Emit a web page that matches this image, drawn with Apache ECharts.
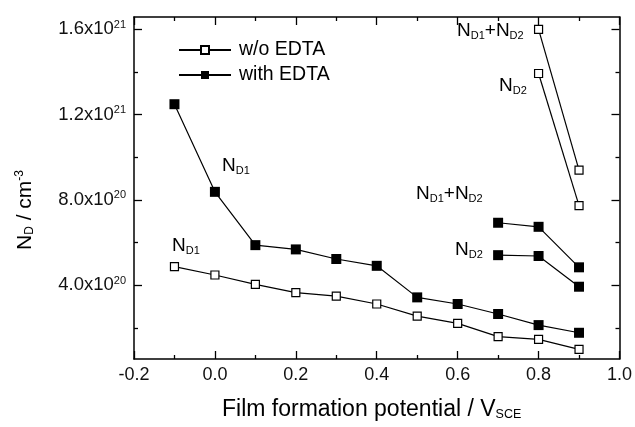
<!DOCTYPE html>
<html>
<head>
<meta charset="utf-8">
<script src="https://cdn.jsdelivr.net/npm/echarts@6/dist/echarts.min.js"></script>
<style>html,body{margin:0;padding:0;background:#fff;}#c{width:635px;height:427px;}</style>
</head>
<body>
<div id="c"></div>
<script>
// ---- data ----
const potentialsAll = [-0.1, 0.0, 0.1, 0.2, 0.3, 0.4, 0.5, 0.6, 0.7, 0.8, 0.9];
const woEdtaND1 = [4.87e20, 4.48e20, 4.04e20, 3.65e20, 3.49e20, 3.12e20, 2.55e20, 2.21e20, 1.59e20, 1.46e20, 0.99e20];
const withEdtaND1 = [12.49e20, 8.38e20, 5.88e20, 5.68e20, 5.23e20, 4.91e20, 3.43e20, 3.12e20, 2.65e20, 2.13e20, 1.77e20];
const potentialsWo = [0.8, 0.9];
const woEdtaND2 = [13.93e20, 7.73e20];
const woEdtaSum = [16.0e20, 9.40e20];
const potentialsWith = [0.7, 0.8, 0.9];
const withEdtaND2 = [5.41e20, 5.37e20, 3.93e20];
const withEdtaSum = [6.93e20, 6.74e20, 4.84e20];
const yMajorTicks = [4e20, 8e20, 1.2e21, 1.6e21];
const yMinorTicks = [2e20, 6e20, 1.0e21, 1.4e21];
const legendNames = ['w/o EDTA', 'with EDTA'];

const FONT = '"Liberation Sans", Arial, Helvetica, sans-serif';
const Y_MIN = 0.54e20, Y_MAX = 1.658e21;

function pairs(xs, ys) { return xs.map((x, i) => [x, ys[i]]); }

function openSeries(data) {
  return {
    type: 'line', name: legendNames[0], xAxisIndex: 0, yAxisIndex: 0,
    data: data, symbol: 'rect', symbolSize: 8, showAllSymbol: true,
    lineStyle: { color: '#000', width: 1.2 },
    itemStyle: { color: '#fff', borderColor: '#000', borderWidth: 1.2 },
    emphasis: { disabled: true }, animation: false, z: 3
  };
}
function filledSeries(data) {
  return {
    type: 'line', name: legendNames[1], xAxisIndex: 0, yAxisIndex: 0,
    data: data, symbol: 'rect', symbolSize: 10, showAllSymbol: true,
    lineStyle: { color: '#000', width: 1.2 },
    itemStyle: { color: '#000', borderColor: '#000', borderWidth: 0 },
    emphasis: { disabled: true }, animation: false, z: 3
  };
}

function sciLabel(v) {
  const e = Math.floor(Math.log10(v) + 1e-9);
  const m = (v / Math.pow(10, e)).toFixed(1);
  return '{a|' + m + 'x10}{s|' + e + '}';
}

const hiddenY = (pos, ticks, len, showLine) => ({
  type: 'value', position: pos, min: Y_MIN, max: Y_MAX, gridIndex: 0,
  axisLine: { show: !!showLine, onZero: false, lineStyle: { color: '#000', width: 1.5 } },
  axisTick: { show: true, inside: true, length: len, customValues: ticks, lineStyle: { color: '#000', width: 1.3 } },
  axisLabel: { show: false }, splitLine: { show: false }
});

const chart = echarts.init(document.getElementById('c'), null, { renderer: 'canvas' });
const annoRich = {
  n: { fontFamily: FONT, fontSize: 19, lineHeight: 20, verticalAlign: 'top', color: '#000' },
  s: { fontFamily: FONT, fontSize: 11, lineHeight: 12, verticalAlign: 'bottom', color: '#000' }
};
function anno(left, top, text) {
  return { type: 'text', left: left, top: top, z: 10, style: { text: text, rich: annoRich, lineHeight: 26 } };
}

chart.setOption({
  animation: false,
  backgroundColor: '#fff',
  grid: { left: 134, right: 15, top: 17, bottom: 68, containLabel: false },
  legend: {
    data: legendNames, orient: 'vertical', left: 173, top: 35,
    itemWidth: 52, itemHeight: 10, itemGap: 5,
    textStyle: { fontFamily: FONT, fontSize: 19.5, color: '#000', padding: [0, 0, 0, 3] },
    selectedMode: false
  },
  xAxis: [
    {
      type: 'value', position: 'bottom', min: -0.2, max: 1.0, interval: 0.2,
      axisLine: { show: true, onZero: false, lineStyle: { color: '#000', width: 1.5 } },
      axisTick: { show: true, inside: true, length: 8, lineStyle: { color: '#000', width: 1.3 } },
      minorTick: { show: true, splitNumber: 2, length: 4, lineStyle: { color: '#000', width: 1.3 } },
      axisLabel: { fontFamily: FONT, fontSize: 18, color: '#111', margin: 7,
        formatter: v => v.toFixed(1) },
      splitLine: { show: false }
    },
    {
      type: 'value', position: 'top', min: -0.2, max: 1.0, interval: 0.2,
      axisLine: { show: true, onZero: false, lineStyle: { color: '#000', width: 1.5 } },
      axisTick: { show: true, inside: true, length: 8, lineStyle: { color: '#000', width: 1.3 } },
      minorTick: { show: true, splitNumber: 2, length: 4, lineStyle: { color: '#000', width: 1.3 } },
      axisLabel: { show: false }, splitLine: { show: false }
    }
  ],
  yAxis: [
    {
      type: 'value', position: 'left', min: Y_MIN, max: Y_MAX,
      axisLine: { show: true, onZero: false, lineStyle: { color: '#000', width: 1.5 } },
      axisTick: { show: true, inside: true, length: 8, customValues: yMajorTicks, lineStyle: { color: '#000', width: 1.3 } },
      axisLabel: {
        customValues: yMajorTicks, margin: 8, formatter: sciLabel,
        rich: {
          a: { fontFamily: FONT, fontSize: 18.5, lineHeight: 20, color: '#111' },
          s: { fontFamily: FONT, fontSize: 11, lineHeight: 8, verticalAlign: 'top', color: '#111' }
        }
      },
      splitLine: { show: false }
    },
    hiddenY('left', yMinorTicks, 4, false),
    hiddenY('right', yMajorTicks, 8, true),
    hiddenY('right', yMinorTicks, 4, false)
  ],
  series: [
    openSeries(pairs(potentialsAll, woEdtaND1)),
    filledSeries(pairs(potentialsAll, withEdtaND1)),
    openSeries(pairs(potentialsWo, woEdtaND2)),
    openSeries(pairs(potentialsWo, woEdtaSum)),
    filledSeries(pairs(potentialsWith, withEdtaND2)),
    filledSeries(pairs(potentialsWith, withEdtaSum))
  ],
  graphic: [
    anno(222, 156, '{n|N}{s|D1}'),
    anno(172, 236, '{n|N}{s|D1}'),
    anno(457, 21, '{n|N}{s|D1}{n|+N}{s|D2}'),
    anno(499, 76, '{n|N}{s|D2}'),
    anno(416, 184, '{n|N}{s|D1}{n|+N}{s|D2}'),
    anno(455, 240, '{n|N}{s|D2}'),
    {
      type: 'text', left: 222, top: 398, z: 10,
      style: {
        text: '{n|Film formation potential / V}{s|SCE}', lineHeight: 28,
        rich: {
          n: { fontFamily: FONT, fontSize: 23, lineHeight: 23, verticalAlign: 'top', color: '#111' },
          s: { fontFamily: FONT, fontSize: 12.5, lineHeight: 13, verticalAlign: 'bottom', color: '#111' }
        }
      }
    },
    {
      type: 'text', x: 25, y: 210, rotation: Math.PI / 2, z: 10,
      style: {
        text: '{n|N}{s|D}{n| / cm}{p|-3}', align: 'center', verticalAlign: 'middle', lineHeight: 30,
        rich: {
          n: { fontFamily: FONT, fontSize: 21, lineHeight: 22, verticalAlign: 'middle', color: '#111' },
          s: { fontFamily: FONT, fontSize: 12, lineHeight: 13, verticalAlign: 'bottom', color: '#111' },
          p: { fontFamily: FONT, fontSize: 12, lineHeight: 13, verticalAlign: 'top', color: '#111' }
        }
      }
    }
  ]
});
</script>
</body>
</html>
